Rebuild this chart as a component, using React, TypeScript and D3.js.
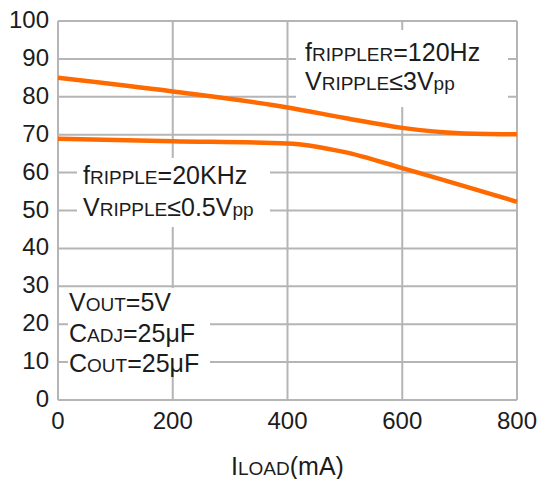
import React from "react";
import * as d3 from "d3";

const loadCurrent = [0, 200, 400, 500, 600, 700, 800];
const rejection120Hz = [85, 81.4, 77.2, 74.4, 71.8, 70.4, 70.1];
const loadCurrentHF = [0, 200, 400, 500, 600, 800];
const rejection20kHz = [68.9, 68.3, 67.7, 65.4, 61.2, 52.3];
const xTicks = [0, 200, 400, 600, 800];
const yTicks = [0, 10, 20, 30, 40, 50, 60, 70, 80, 90, 100];

const W = 540;
const H = 479;
const M = { left: 58, right: 23, top: 21, bottom: 79 };
const FONT = "'Liberation Sans', Arial, sans-serif";
const BIG = 25;
const SMALL = 19;
const INK = "#1c1c1c";
const GRID = "#b5b5b5";
const ORANGE = "#ff6a00";

export default function App() {
  const x = d3.scaleLinear().domain([0, 800]).range([M.left, W - M.right]);
  const y = d3.scaleLinear().domain([0, 100]).range([H - M.bottom, M.top]);
  const line = d3
    .line<[number, number]>()
    .x((d) => x(d[0]))
    .y((d) => y(d[1]))
    .curve(d3.curveMonotoneX);
  const s1 = loadCurrent.map((v, i) => [v, rejection120Hz[i]] as [number, number]);
  const s2 = loadCurrentHF.map((v, i) => [v, rejection20kHz[i]] as [number, number]);

  const big = { fontSize: BIG };
  const small = { fontSize: SMALL };

  return (
    <svg
      width={W}
      height={H}
      style={{ position: "absolute", left: 0, top: 0, background: "#fff" }}
      fontFamily={FONT}
      fill={INK}
    >
      {/* grid */}
      {yTicks.map((t) => (
        <line key={"gy" + t} x1={x(0)} x2={x(800)} y1={y(t)} y2={y(t)} stroke={GRID} strokeWidth={2} />
      ))}
      {xTicks.map((t) => (
        <line key={"gx" + t} x1={x(t)} x2={x(t)} y1={y(0)} y2={y(100)} stroke={GRID} strokeWidth={2} />
      ))}

      {/* annotation backgrounds */}
      <rect x={296} y={30} width={212} height={77} fill="#fff" />
      <rect x={77} y={158} width={193} height={69} fill="#fff" />
      <rect x={68} y={288} width={142} height={83} fill="#fff" />

      {/* series */}
      <path d={line(s1) || ""} fill="none" stroke={ORANGE} strokeWidth={4.5} />
      <path d={line(s2) || ""} fill="none" stroke={ORANGE} strokeWidth={4.5} />

      {/* y tick labels */}
      {yTicks.map((t) => (
        <text key={"ty" + t} x={49} y={y(t) + 7} textAnchor="end" fontSize={24}>
          {t}
        </text>
      ))}
      {/* x tick labels */}
      {xTicks.map((t) => (
        <text key={"tx" + t} x={x(t)} y={429} textAnchor="middle" fontSize={24}>
          {t}
        </text>
      ))}

      {/* x axis title */}
      <text x={(x(0) + x(800)) / 2} y={475} textAnchor="middle">
        <tspan style={big}>I</tspan>
        <tspan style={small}>LOAD</tspan>
        <tspan style={big}>(mA)</tspan>
      </text>

      {/* 120 Hz annotation */}
      <text x={305} y={61}>
        <tspan style={big}>f</tspan>
        <tspan style={small}>RIPPLER</tspan>
        <tspan style={big}>=120Hz</tspan>
      </text>
      <text x={305} y={90}>
        <tspan style={big}>V</tspan>
        <tspan style={small}>RIPPLE</tspan>
        <tspan style={big}>≤3V</tspan>
        <tspan style={small}>pp</tspan>
      </text>

      {/* 20 kHz annotation */}
      <text x={83} y={184}>
        <tspan style={big}>f</tspan>
        <tspan style={small}>RIPPLE</tspan>
        <tspan style={big}>=20KHz</tspan>
      </text>
      <text x={83} y={216}>
        <tspan style={big}>V</tspan>
        <tspan style={small}>RIPPLE</tspan>
        <tspan style={big}>≤0.5V</tspan>
        <tspan style={small}>pp</tspan>
      </text>

      {/* conditions */}
      <text x={69} y={311}>
        <tspan style={big}>V</tspan>
        <tspan style={small}>OUT</tspan>
        <tspan style={big}>=5V</tspan>
      </text>
      <text x={69} y={342}>
        <tspan style={big}>C</tspan>
        <tspan style={small}>ADJ</tspan>
        <tspan style={big}>=25μF</tspan>
      </text>
      <text x={69} y={372}>
        <tspan style={big}>C</tspan>
        <tspan style={small}>OUT</tspan>
        <tspan style={big}>=25μF</tspan>
      </text>
    </svg>
  );
}
